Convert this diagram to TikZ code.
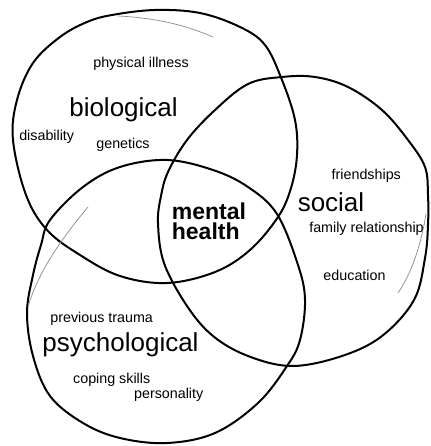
\documentclass[tikz,border=0pt]{standalone}
\usepackage{fontspec}
\setmainfont{Liberation Sans}
\begin{document}
\begin{tikzpicture}[x=1pt,y=-1pt,
  ring/.style={line width=2pt, black, line join=round},
  sketch/.style={line width=0.7pt, black!45, line cap=round},
  small/.style={font=\fontsize{14.3}{16}\selectfont, inner sep=0pt, anchor=base},
  big/.style={font=\fontsize{26}{30}\selectfont, inner sep=0pt, anchor=base},
  core/.style={font=\fontsize{23}{26}\selectfont\bfseries, inner sep=0pt, anchor=base west}]
\fill[white] (0,0) rectangle (430,446);
\useasboundingbox (0,0) rectangle (430,446);
% biological
\draw[ring] plot[smooth cycle, tension=0.6] coordinates {
  (13,140) (17,100) (33,63) (60,37) (87,22) (112,15) (155,10) (200,13)
  (240,27) (265,45) (282,80) (295,120) (297,155) (291,188) (278,217)
  (250,250) (215,272) (167,283) (120,276) (80,255) (47,230) (26,195)};
\draw[sketch] (118,16) .. controls (160,18) and (190,27) .. (213,37);
% social
\draw[ring] plot[smooth cycle, tension=0.6] coordinates {
  (215,110) (248,84) (282,77) (315,77) (348,87) (382,110) (408,140)
  (425,167) (428,195) (428,225) (425,258) (414,300) (382,336) (342,356)
  (292,366) (248,356) (213,336) (187,306) (164,263) (158,223) (161,196)
  (168,172) (187,140)};
\draw[sketch] (426,214) .. controls (421,245) and (412,272) .. (398,293);
% psychological
\draw[ring] plot[smooth cycle, tension=0.6] coordinates {
  (50,220) (83,187) (120,167) (167,160) (213,170) (248,187) (277,214)
  (298,265) (305,300) (300,340) (287,366) (258,403) (215,433) (167,443)
  (120,438) (83,423) (50,396) (33,356) (27,313) (33,275) (41,245)};
\draw[sketch] (88,207) .. controls (62,238) and (38,272) .. (28,307);
% texts
\node[small] (tphys) at (141,67.5) {physical illness};
\node[big] (tbio) at (123.5,116.5) {biological};
\node[small] (tdis) at (46.7,140.3) {disability};
\node[small] (tgen) at (123,149) {genetics};
\node[core] (tment) at (171.7,219) {mental};
\node[core] (theal) at (171.7,239) {health};
\node[small] (tfri) at (366.3,179.7) {friendships};
\node[big] (tsoc) at (331,211.7) {social};
\node[small] (tfam) at (366.5,232) {family relationship};
\node[small] (tedu) at (354.5,280.7) {education};
\node[small] (tprev) at (101.7,322) {previous trauma};
\node[big] (tpsy) at (120.5,351) {psychological};
\node[small] (tcop) at (111.7,383) {coping skills};
\node[small] (tper) at (168.7,398.7) {personality};
\end{tikzpicture}
\end{document}
